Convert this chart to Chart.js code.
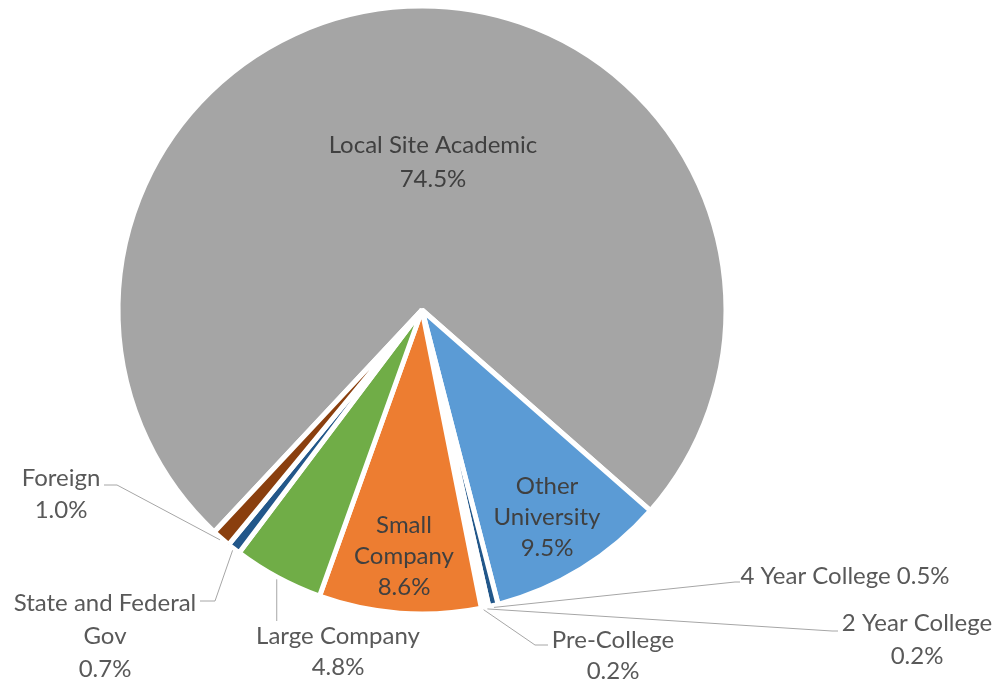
<!DOCTYPE html>
<html>
<head>
<meta charset="utf-8">
<script src="https://cdn.jsdelivr.net/npm/chart.js@4/dist/chart.umd.min.js"></script>
<style>
  html, body { margin: 0; padding: 0; background: #fff; }
  #wrap { width: 999px; height: 686px; position: relative; }
</style>
</head>
<body>
<div id="wrap"><canvas id="pieChart"></canvas></div>
<script>
// Funding sources, share of total (%)
const categories = [
  "Local Site Academic", "Other University", "4 Year College", "2 Year College",
  "Pre-College", "Small Company", "Large Company", "State and Federal Gov", "Foreign"
];
const shares = [74.5, 9.5, 0.5, 0.2, 0.2, 8.6, 4.8, 0.7, 1.0];
const sliceColors = [
  "#A5A5A5", "#5B9BD5", "#22578A", "#FFC000",
  "#4472C4", "#ED7D31", "#70AD47", "#22578A", "#8A3F0E"
];

// label placement: text lines, centre of first line, line step, and
// optional leader elbow / end points for labels sitting outside the pie
const labelSpots = [
  { lines: ["Local Site Academic"], x: 433, y: 145, step: 34, color: "#404040" },
  { lines: ["Other", "University"], x: 547, y: 486, step: 31, color: "#404040" },
  { lines: ["4 Year College"], x: 845, y: 576, step: 32, inline: true, elbow: [735, 582], end: [740, 582] },
  { lines: ["2 Year College"], x: 917, y: 623, step: 33, elbow: [832, 631], end: [838, 631] },
  { lines: ["Pre-College"], x: 613, y: 640, step: 31, elbow: [535, 645], end: [548, 645] },
  { lines: ["Small", "Company"], x: 404, y: 525, step: 31, color: "#404040" },
  { lines: ["Large Company"], x: 338, y: 636, step: 31, elbow: [null, 621] },
  { lines: ["State and Federal", "Gov"], x: 105, y: 603, step: 33, elbow: [215, 601], end: [200, 601] },
  { lines: ["Foreign"], x: 61, y: 478, step: 32, elbow: [117, 485], end: [104, 485] }
];

const pieLabels = {
  id: "pieLabels",
  afterDatasetsDraw(chart) {
    const ctx = chart.ctx;
    const arcs = chart.getDatasetMeta(0).data;
    ctx.save();
    ctx.font = "24px Lato";
    ctx.textAlign = "center";
    ctx.textBaseline = "middle";
    arcs.forEach((arc, i) => {
      const spot = labelSpots[i];
      const { x, y, startAngle, endAngle, outerRadius } = arc.getProps(
        ["x", "y", "startAngle", "endAngle", "outerRadius"], true);
      if (spot.elbow) {
        const mid = (startAngle + endAngle) / 2;
        const ax = x + Math.cos(mid) * (outerRadius + 2);
        const ay = y + Math.sin(mid) * (outerRadius + 2);
        ctx.strokeStyle = "#A6A6A6";
        ctx.lineWidth = 1;
        ctx.beginPath();
        ctx.moveTo(ax, ay);
        ctx.lineTo(spot.elbow[0] === null ? ax : spot.elbow[0], spot.elbow[1]);
        if (spot.end) ctx.lineTo(spot.end[0], spot.end[1]);
        ctx.stroke();
      }
      const pct = shares[i].toFixed(1) + "%";
      const lines = spot.inline
        ? [spot.lines[0] + " " + pct]
        : spot.lines.concat([pct]);
      ctx.fillStyle = spot.color || "#595959";
      lines.forEach((t, k) => ctx.fillText(t, spot.x, spot.y + k * spot.step));
    });
    ctx.restore();
  }
};

new Chart(document.getElementById("pieChart").getContext("2d"), {
  type: "pie",
  data: {
    labels: categories,
    datasets: [{
      data: shares,
      backgroundColor: sliceColors,
      borderColor: "#ffffff",
      borderWidth: 5
    }]
  },
  options: {
    responsive: true,
    maintainAspectRatio: false,
    animation: false,
    rotation: 223.1,
    radius: 304,
    layout: { padding: { top: 8, bottom: 74, left: 120, right: 275 } },
    plugins: {
      legend: { display: false },
      tooltip: { enabled: false }
    }
  },
  plugins: [pieLabels]
});
</script>
</body>
</html>
